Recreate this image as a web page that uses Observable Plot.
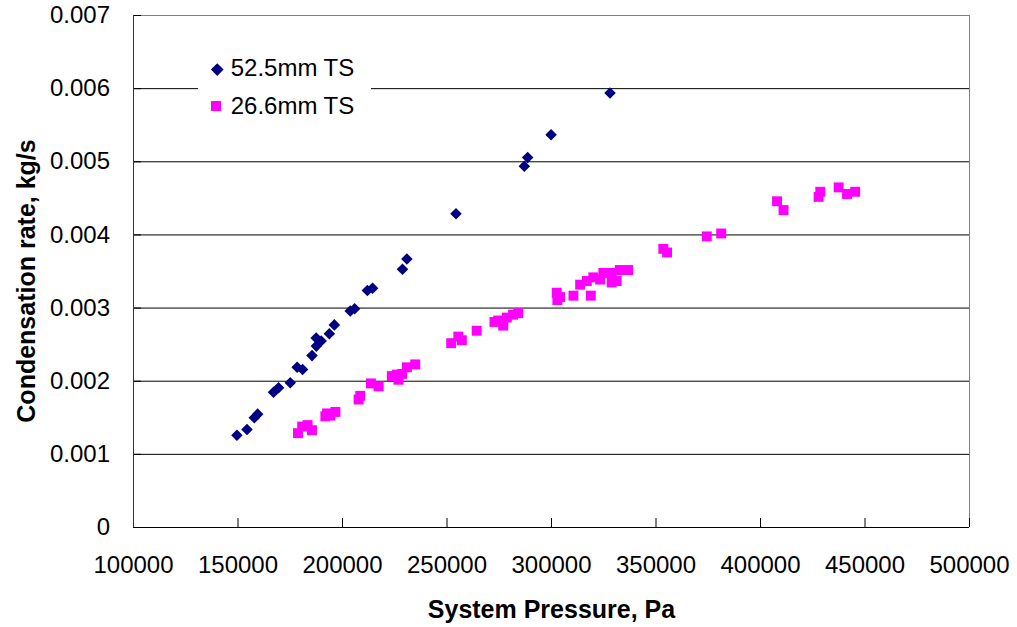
<!DOCTYPE html>
<html>
<head>
<meta charset="utf-8">
<script src="https://cdn.jsdelivr.net/npm/d3@7"></script>
<script src="https://cdn.jsdelivr.net/npm/@observablehq/plot@0.6"></script>
<style>
  html, body { margin: 0; padding: 0; background: #fff; }
  #wrap { position: relative; width: 1017px; height: 627px; font-family: "Liberation Sans", Arial, sans-serif; }
  #legend { position: absolute; left: 198px; top: 40px; width: 173px; height: 90px; background: #fff; }
  .lg-text { position: absolute; left: 32.7px; font-size: 24px; line-height: 24px; color: #000; white-space: nowrap; }
  .lg-diamond { position: absolute; width: 8.5px; height: 8.5px; background: #000080; transform: rotate(45deg); }
  .lg-square { position: absolute; width: 10px; height: 10px; background: #FF00FF; }
</style>
</head>
<body>
<div id="wrap"></div>
<script>
// ---- Data ----
const seriesNames = ["52.5mm TS", "26.6mm TS"];
const seriesColors = ["#000080", "#FF00FF"];

const pressure525 = [149500, 154300, 157800, 159400, 167000, 169400, 175000, 178300, 180900, 185400,
  187500, 187400, 189800, 193700, 196100, 203700, 205800, 211900, 214400, 228700,
  230800, 254300, 287000, 288600, 299800, 328000];
const rate525 = [0.00126, 0.00134, 0.00150, 0.00155, 0.00185, 0.00191, 0.00198, 0.00219, 0.00216, 0.00235,
  0.00248, 0.00259, 0.00255, 0.00265, 0.00277, 0.00296, 0.00299, 0.00324, 0.00327, 0.00353,
  0.00367, 0.00429, 0.00494, 0.00506, 0.00537, 0.00594];

const pressure266 = [178700, 180700, 183300, 185400, 191800, 192600, 194200, 196600, 207700, 208500,
  213600, 217300, 223600, 226000, 226800, 228500, 230800, 234800, 252000, 255400,
  257100, 264200, 272700, 274500, 276900, 278600, 281600, 284100, 302500, 302800,
  304100, 310500, 313700, 316900, 318800, 320000, 323300, 324800, 328800, 328800,
  331200, 332700, 336700, 353500, 355300, 374300, 381200, 407900, 411000, 427800,
  428600, 437400, 441400, 445300];
const rate266 = [0.00129, 0.00138, 0.00140, 0.00133, 0.00152, 0.00156, 0.00153, 0.00158, 0.00175, 0.00180,
  0.00197, 0.00193, 0.00207, 0.00209, 0.00202, 0.00210, 0.00219, 0.00223, 0.00252, 0.00261,
  0.00256, 0.00269, 0.00281, 0.00283, 0.00276, 0.00287, 0.00291, 0.00293, 0.00321, 0.00311,
  0.00315, 0.00317, 0.00332, 0.00337, 0.00317, 0.00342, 0.00339, 0.00348, 0.00348, 0.00335,
  0.00337, 0.00352, 0.00352, 0.00381, 0.00376, 0.00398, 0.00402, 0.00446, 0.00434, 0.00452,
  0.00459, 0.00465, 0.00456, 0.00459];

const xTicks = [100000, 150000, 200000, 250000, 300000, 350000, 400000, 450000, 500000];
const yTicks = [0, 0.001, 0.002, 0.003, 0.004, 0.005, 0.006, 0.007];
const xTitle = "System Pressure, Pa";
const yTitle = "Condensation rate, kg/s";

// ---- Build tables ----
const data525 = pressure525.map((p, i) => ({p, r: rate525[i]}));
const data266 = pressure266.map((p, i) => ({p, r: rate266[i]}));

const xMin = xTicks[0], xMax = xTicks[xTicks.length - 1];
const yMin = yTicks[0], yMax = yTicks[yTicks.length - 1];

const chart = Plot.plot({
  width: 1017,
  height: 627,
  marginLeft: 133,
  marginRight: 48,
  marginTop: 15,
  marginBottom: 100,
  style: {fontFamily: "'Liberation Sans', Arial, sans-serif", fontSize: "24px", color: "#000", background: "#fff"},
  x: {domain: [xMin, xMax]},
  y: {domain: [yMin, yMax]},
  marks: [
    // gridlines
    Plot.ruleY(yTicks.slice(1, -1), {stroke: "#000", strokeWidth: 1}),
    // plot-area border (top & right gray)
    Plot.ruleY([yMax], {stroke: "#808080"}),
    Plot.ruleX([xMax], {stroke: "#808080"}),
    // axes
    Plot.axisX(xTicks, {tickSize: -9, tickPadding: 37, tickFormat: d => String(d), label: null, fontSize: 24, stroke: "#000"}),
    Plot.axisY(yTicks, {tickSize: -8, tickPadding: 31.5, tickFormat: d => String(d), label: null, fontSize: 24, stroke: "#000"}),
    Plot.ruleY([yMin], {stroke: "#000"}),
    Plot.ruleX([xMin], {stroke: "#333"}),
    // data
    Plot.dot(data266, {x: "p", y: "r", symbol: "square", r: 5.6, fill: seriesColors[1], stroke: "none"}),
    Plot.dot(data525, {x: "p", y: "r", symbol: "diamond2", r: 5.2, fill: seriesColors[0], stroke: "none"}),
    // axis titles
    Plot.text([xTitle], {frameAnchor: "bottom", dy: 82, lineAnchor: "middle", fontWeight: "bold", fontSize: 25, fill: "#000"}),
    Plot.text([yTitle], {frameAnchor: "left", dx: -107, dy: 9.5, rotate: -90, lineAnchor: "middle", textAnchor: "middle", fontWeight: "bold", fontSize: 25, fill: "#000"})
  ]
});

const wrap = document.getElementById("wrap");
wrap.appendChild(chart);

// ---- Legend ----
const legend = document.createElement("div");
legend.id = "legend";
const tops = [16.2, 53.7];
const markerCenters = [[19, 29.3], [18, 66]];
seriesNames.forEach((name, i) => {
  const m = document.createElement("div");
  if (i === 0) {
    m.className = "lg-diamond";
    m.style.left = (markerCenters[i][0] - 4.25) + "px";
    m.style.top = (markerCenters[i][1] - 4.25) + "px";
  } else {
    m.className = "lg-square";
    m.style.left = (markerCenters[i][0] - 5) + "px";
    m.style.top = (markerCenters[i][1] - 5) + "px";
  }
  m.style.background = seriesColors[i];
  legend.appendChild(m);
  const t = document.createElement("div");
  t.className = "lg-text";
  t.style.top = tops[i] + "px";
  t.textContent = name;
  legend.appendChild(t);
});
wrap.appendChild(legend);
</script>
</body>
</html>
